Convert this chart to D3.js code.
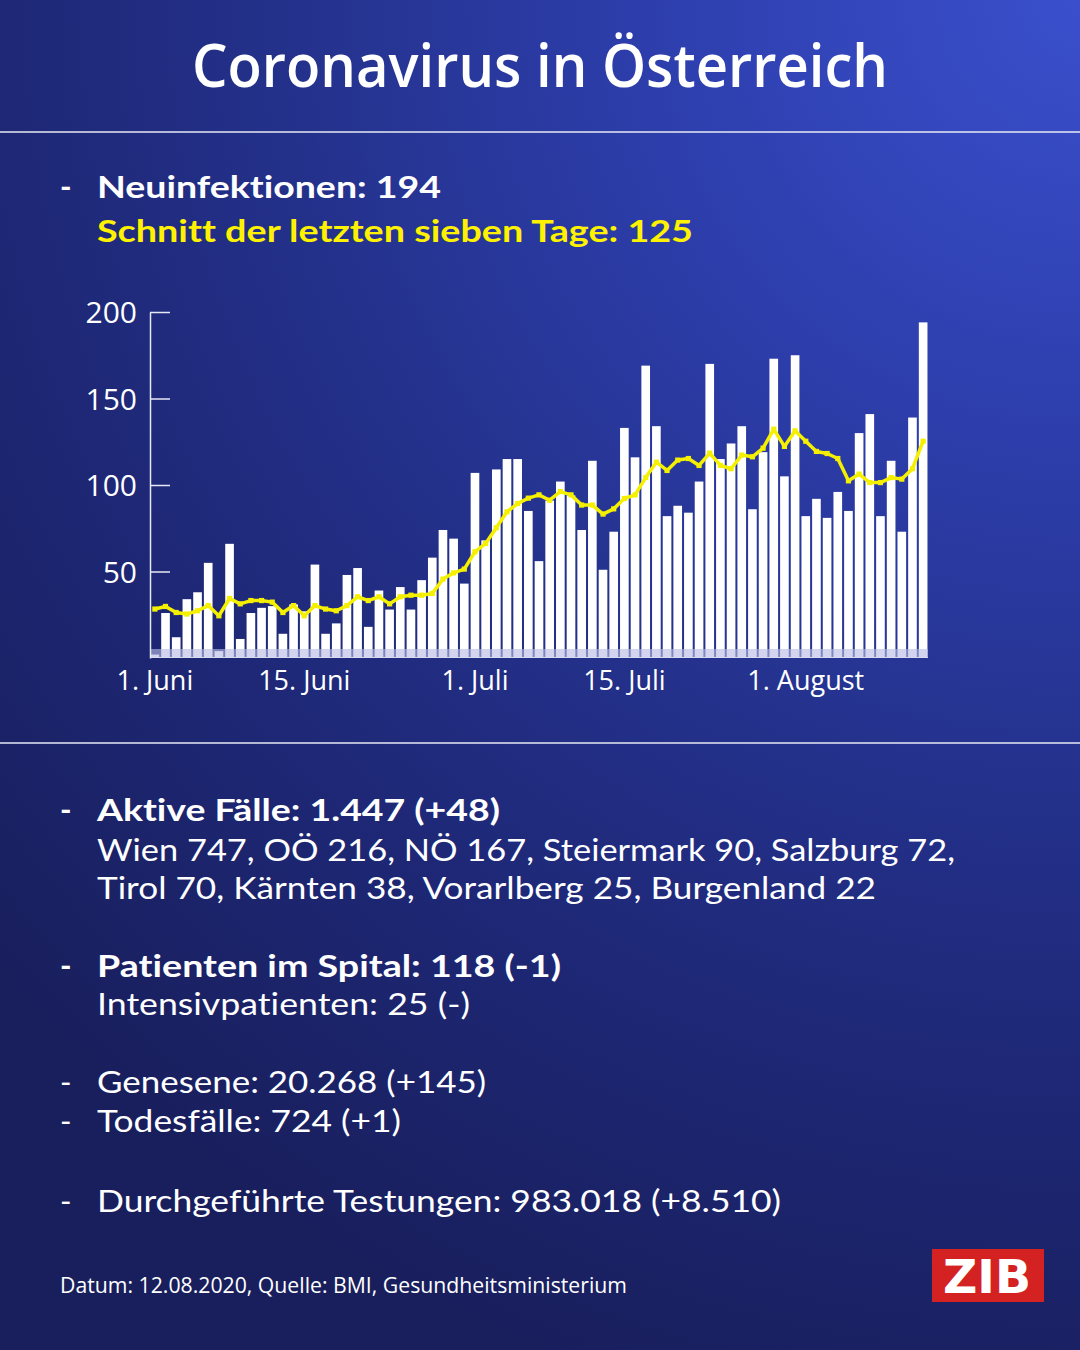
<!DOCTYPE html>
<html><head><meta charset="utf-8">
<script src="https://cdn.jsdelivr.net/npm/d3@7"></script>
<style>html,body{margin:0;padding:0;background:#1c2466;}svg{display:block;}
text{font-variant-ligatures:none;font-feature-settings:"liga" 0,"clig" 0,"dlig" 0;}</style>
</head><body>
<script>
// ---- data ----
const startDate = new Date(2020, 5, 1);   // 1. Juni 2020
const endDate = new Date(2020, 7, 13);    // up to 12. August 2020
const days = d3.timeDay.range(startDate, endDate);
const newCases = [2,26,12,34,38,55,4,66,11,26,29,30,14,31,27,54,14,20,48,52,18,39,28,41,28,
  45,58,74,69,43,107,68,109,115,115,85,56,91,102,94,74,114,51,73,133,116,169,134,82,
  88,84,102,170,115,124,134,86,119,173,105,175,82,92,81,96,85,130,141,82,114,73,139,194];
const avg7 = [28.3,29.8,26.3,25.4,27.3,30.3,24.4,34.4,31.3,33.2,33.2,32.3,26.3,30.3,24.4,30.3,28.3,27.3,30.3,35.4,33.2,35.4,31.3,35.4,36.3,
  36.3,37.3,45.6,49.2,51.4,61.4,66.2,75.3,84.5,89.3,92.4,94.3,91.2,96.2,94.3,88.4,88.4,83.2,86.2,92.2,94.3,104.3,113.2,108.4,
  114.4,115.3,111.3,118.4,111.3,109.4,117.3,116.3,121.3,132.3,122.3,131.3,125.3,119.4,118.2,115.3,102.4,106.3,101.4,101.4,104.3,103.4,109.4,125.3];
const yTicks = [50, 100, 150, 200];
const xTickIdx = [0, 14, 30, 44, 61];
const xTickLabels = ["1. Juni", "15. Juni", "1. Juli", "15. Juli", "1. August"];

const title = "Coronavirus in Österreich";
const headLines = [
  {t:"Neuinfektionen: 194", bold:true, color:"#ffffff", dash:true},
  {t:"Schnitt der letzten sieben Tage: 125", bold:true, color:"#fff200", dash:false}
];
const infoLines = [
  {t:"Aktive Fälle: 1.447 (+48)", bold:true, dash:true},
  {t:"Wien 747, OÖ 216, NÖ 167, Steiermark 90, Salzburg 72,", bold:false, dash:false},
  {t:"Tirol 70, Kärnten 38, Vorarlberg 25, Burgenland 22", bold:false, dash:false},
  {t:"Patienten im Spital: 118 (-1)", bold:true, dash:true},
  {t:"Intensivpatienten: 25 (-)", bold:false, dash:false},
  {t:"Genesene: 20.268 (+145)", bold:false, dash:true},
  {t:"Todesfälle: 724 (+1)", bold:false, dash:true},
  {t:"Durchgeführte Testungen: 983.018 (+8.510)", bold:false, dash:true}
];
const footer = "Datum: 12.08.2020, Quelle: BMI, Gesundheitsministerium";
const logo = "ZIB";

// ---- layout ----
const W = 1080, H = 1350;
const FONT = "'Open Sans', 'Noto Sans', sans-serif";
const BODY = "Lato, 'Open Sans', sans-serif";
const headPos = [{y:198, w:344}, {y:242, w:596}];
const infoPos = [{y:821,w:403},{y:861,w:858},{y:899,w:779},{y:977,w:464},{y:1015,w:373},{y:1093,w:389},{y:1132,w:304},{y:1212,w:684}];

const svg = d3.select("body").append("svg").attr("width", W).attr("height", H);
const defs = svg.append("defs");
const g = defs.append("radialGradient").attr("id","bg")
  .attr("gradientUnits","userSpaceOnUse").attr("cx",1080).attr("cy",0).attr("r",1450);
[[0,"#3a4fcc"],[0.3,"#2d3eac"],[0.55,"#24318b"],[0.78,"#1d2672"],[1,"#191f5d"]]
  .forEach(([o,c]) => g.append("stop").attr("offset",o).attr("stop-color",c));
svg.append("rect").attr("width",W).attr("height",H).attr("fill","url(#bg)");

// title
svg.append("text").attr("x",540).attr("y",87).attr("text-anchor","middle")
  .attr("font-family",FONT).attr("font-weight",600).attr("font-size",60)
  .attr("fill","#fff").attr("textLength",696).attr("lengthAdjust","spacingAndGlyphs").text(title);

// separators
svg.append("line").attr("x1",0).attr("x2",W).attr("y1",132).attr("y2",132).attr("stroke","#e8eaf6").attr("stroke-width",1.5);
svg.append("line").attr("x1",0).attr("x2",W).attr("y1",743).attr("y2",743).attr("stroke","#e8eaf6").attr("stroke-width",1.5);

function textBlock(lines, pos) {
  lines.forEach((d,i) => {
    const p = pos[i];
    if (d.dash) svg.append("text").attr("x",60).attr("y",p.y).attr("font-family",BODY)
      .attr("font-weight",d.bold?700:400).attr("font-size",31).attr("fill","#fff").text("-");
    svg.append("text").attr("x",97).attr("y",p.y).attr("font-family",BODY)
      .attr("font-weight",d.bold?700:400).attr("font-size",31).attr("fill",d.color||"#fff")
      .attr("textLength",p.w).attr("lengthAdjust","spacingAndGlyphs").text(d.t);
  });
}
textBlock(headLines, headPos);
textBlock(infoLines, infoPos);

// ---- chart ----
const x = d3.scaleBand().domain(d3.range(days.length)).range([150, 928]).paddingInner(0.19).paddingOuter(0.05);
const y = d3.scaleLinear().domain([0, 200]).range([658, 312]);

const chart = svg.append("g");
chart.selectAll("rect.bar").data(newCases).join("rect").attr("class","bar")
  .attr("x",(d,i)=>x(i)).attr("width",x.bandwidth())
  .attr("y",d=>y(d)).attr("height",d=>y(0)-y(d)).attr("fill","#ffffff");

// bottom strip
chart.append("rect").attr("x",150).attr("width",928-150).attr("y",649).attr("height",8.5)
  .attr("fill","#b8bce4").attr("opacity",0.62);
chart.append("line").attr("x1",150).attr("x2",928).attr("y1",657.5).attr("y2",657.5)
  .attr("stroke","#d8dbf0").attr("stroke-width",1.2);

// y axis
const yAxis = d3.axisLeft(y).tickValues(yTicks).tickSizeInner(-20).tickSizeOuter(0).tickPadding(13);
const ya = svg.append("g").attr("transform","translate(150,0)").call(yAxis);
ya.select(".domain").attr("stroke","#e6e8f4").attr("stroke-width",1.5);
ya.selectAll(".tick line").attr("stroke","#e6e8f4").attr("stroke-width",1.5);
ya.selectAll(".tick text").attr("fill","#fff").attr("font-family",FONT).attr("font-size",30).attr("dy","0.36em");

// avg line
const line = d3.line().x((d,i)=>x(i)+x.bandwidth()/2).y(d=>y(d));
chart.append("path").datum(avg7).attr("d",line).attr("fill","none")
  .attr("stroke","#f5f000").attr("stroke-width",3.5).attr("stroke-linejoin","round");
chart.selectAll("rect.pt").data(avg7).join("rect").attr("class","pt")
  .attr("x",(d,i)=>x(i)+x.bandwidth()/2-2.6).attr("y",d=>y(d)-2.6)
  .attr("width",5.2).attr("height",5.2).attr("fill","#f5f000");

// x labels
const xa = d3.axisBottom(x).tickValues(xTickIdx).tickFormat((d,i)=>xTickLabels[xTickIdx.indexOf(d)]).tickSize(0).tickPadding(0);
const xg = svg.append("g").attr("transform","translate(0,690)").call(xa);
xg.select(".domain").remove();
xg.selectAll(".tick text").attr("fill","#fff").attr("font-family",FONT).attr("font-size",27).attr("dy",0);

// footer
svg.append("text").attr("x",60).attr("y",1293).attr("font-family",FONT).attr("font-size",22)
  .attr("fill","#fff").attr("textLength",567).attr("lengthAdjust","spacingAndGlyphs").text(footer);

// logo
svg.append("rect").attr("x",932).attr("y",1249).attr("width",112).attr("height",53).attr("fill","#d42222");
svg.append("text").attr("x",987).attr("y",1293).attr("text-anchor","middle")
  .attr("font-family","'DejaVu Sans', sans-serif").attr("font-weight",700).attr("font-size",46)
  .attr("fill","#fff").attr("textLength",88).attr("lengthAdjust","spacingAndGlyphs").text(logo);
</script>
</body></html>
